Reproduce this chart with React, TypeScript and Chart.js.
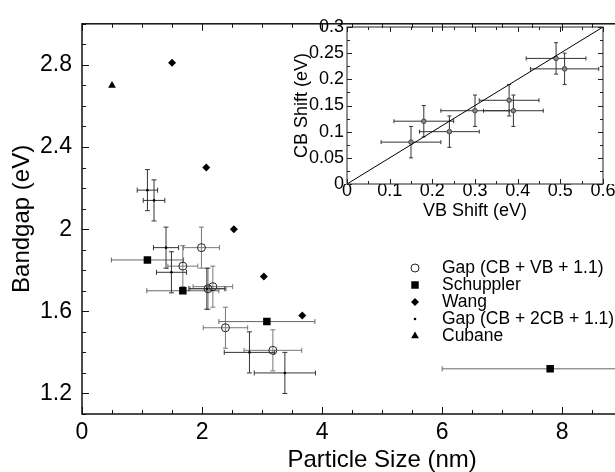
import React, { useEffect, useRef } from 'react';
import { Chart, registerables } from 'chart.js';

Chart.register(...registerables);

const FONT = '"Liberation Sans", Arial, Helvetica, sans-serif';

// ---------- main chart data ----------
const gapVBLabel = 'Gap (CB + VB + 1.1)';
const gapVBX = [1.68, 1.99, 2.1, 2.18, 2.39, 3.18];
const gapVBY = [1.82, 1.91, 1.71, 1.72, 1.52, 1.41];
const gapVBXErr = [0.25, 0.3, 0.3, 0.33, 0.37, 0.48];
const gapVBYErr = [0.1, 0.1, 0.1, 0.1, 0.1, 0.1];

const schupplerLabel = 'Schuppler';
const schupplerX = [1.09, 1.68, 3.08, 7.8];
const schupplerY = [1.85, 1.7, 1.55, 1.32];
const schupplerXErr = [0.6, 0.6, 0.8, 1.8];

const wangLabel = 'Wang';
const wangX = [1.5, 2.07, 2.53, 3.03, 3.67];
const wangY = [2.81, 2.3, 2.0, 1.77, 1.58];

const gap2CBLabel = 'Gap (CB + 2CB + 1.1)';
const gap2CBX = [1.09, 1.2, 1.4, 1.49, 2.08, 2.79, 3.38];
const gap2CBY = [2.19, 2.14, 1.91, 1.79, 1.71, 1.4, 1.3];
const gap2CBXErr = [0.17, 0.18, 0.21, 0.25, 0.3, 0.42, 0.51];
const gap2CBYErr = [0.1, 0.1, 0.1, 0.1, 0.1, 0.1, 0.1];

const cubaneLabel = 'Cubane';
const cubaneX = [0.5];
const cubaneY = [2.7];

const mainXTicks = [0, 2, 4, 6, 8, 10];
const mainYTicks = [1.2, 1.6, 2, 2.4, 2.8];

// ---------- inset data ----------
const vbShift = [0.15, 0.18, 0.24, 0.3, 0.38, 0.39, 0.49, 0.51];
const cbShift = [0.08, 0.12, 0.1, 0.14, 0.16, 0.14, 0.24, 0.22];
const vbShiftErr = [0.07, 0.07, 0.07, 0.08, 0.07, 0.07, 0.07, 0.08];
const cbShiftErr = [0.03, 0.03, 0.03, 0.03, 0.03, 0.03, 0.03, 0.03];
const fitLineX = [0, 0.6];
const fitLineY = [0, 0.3];

const insetXTicks = [0, 0.1, 0.2, 0.3, 0.4, 0.5, 0.6];
const insetYTicks = [0, 0.05, 0.1, 0.15, 0.2, 0.25, 0.3];

function steps(from: number, to: number, step: number) {
  const out: number[] = [];
  const n = Math.round((to - from) / step);
  for (let i = 0; i <= n; i++) out.push(+(from + i * step).toFixed(4));
  return out;
}

const pts = (xs: number[], ys: number[]) => xs.map((x, i) => ({ x, y: ys[i] }));

function drawMarker(ctx: CanvasRenderingContext2D, style: string, x: number, y: number, r: number, fill: string, stroke: string, lw: number) {
  ctx.beginPath();
  if (style === 'circle') {
    ctx.arc(x, y, r, 0, Math.PI * 2);
  } else if (style === 'rect') {
    const s = Math.SQRT1_2 * r;
    ctx.rect(x - s, y - s, 2 * s, 2 * s);
  } else if (style === 'rectRot') {
    ctx.moveTo(x - r, y);
    ctx.lineTo(x, y - r);
    ctx.lineTo(x + r, y);
    ctx.lineTo(x, y + r);
    ctx.closePath();
  } else if (style === 'triangle') {
    ctx.moveTo(x, y - r);
    ctx.lineTo(x + r * 0.866, y + r * 0.5);
    ctx.lineTo(x - r * 0.866, y + r * 0.5);
    ctx.closePath();
  }
  if (fill && fill !== 'transparent') {
    ctx.fillStyle = fill;
    ctx.fill();
  }
  if (stroke && lw) {
    ctx.strokeStyle = stroke;
    ctx.lineWidth = lw;
    ctx.stroke();
  }
}

const errorBars = {
  id: 'errorBars',
  beforeDatasetsDraw(chart: any) {
    const { ctx } = chart;
    const xs = chart.scales.x;
    const ys = chart.scales.y;
    chart.data.datasets.forEach((ds: any) => {
      if (!ds.errX && !ds.errY) return;
      ctx.save();
      ctx.strokeStyle = ds.errColor || '#000';
      ctx.lineWidth = ds.errWidth || 1;
      const cap = ds.errCap ?? 2.5;
      ds.data.forEach((p: any, i: number) => {
        const px = xs.getPixelForValue(p.x);
        const py = ys.getPixelForValue(p.y);
        const ex = ds.errX ? ds.errX[i] : 0;
        const ey = ds.errY ? ds.errY[i] : 0;
        ctx.beginPath();
        if (ex) {
          const x1 = xs.getPixelForValue(p.x - ex);
          const x2 = xs.getPixelForValue(p.x + ex);
          ctx.moveTo(x1, py); ctx.lineTo(x2, py);
          ctx.moveTo(x1, py - cap); ctx.lineTo(x1, py + cap);
          ctx.moveTo(x2, py - cap); ctx.lineTo(x2, py + cap);
        }
        if (ey) {
          const y1 = ys.getPixelForValue(p.y - ey);
          const y2 = ys.getPixelForValue(p.y + ey);
          ctx.moveTo(px, y1); ctx.lineTo(px, y2);
          ctx.moveTo(px - cap, y1); ctx.lineTo(px + cap, y1);
          ctx.moveTo(px - cap, y2); ctx.lineTo(px + cap, y2);
        }
        ctx.stroke();
      });
      ctx.restore();
    });
  },
};

const frameTicks = {
  id: 'frameTicks',
  afterDraw(chart: any, _args: any, opts: any) {
    const { ctx, chartArea: a } = chart;
    const xs = chart.scales.x;
    const ys = chart.scales.y;
    ctx.save();
    ctx.strokeStyle = opts.color || '#111';
    ctx.lineWidth = opts.lineWidth || 1;
    ctx.beginPath();
    const xTick = (v: number, len: number) => {
      const px = Math.round(xs.getPixelForValue(v)) + 0.5;
      ctx.moveTo(px, a.bottom); ctx.lineTo(px, a.bottom - len);
      ctx.moveTo(px, a.top); ctx.lineTo(px, a.top + len);
    };
    const yTick = (v: number, len: number) => {
      const py = Math.round(ys.getPixelForValue(v)) + 0.5;
      ctx.moveTo(a.left, py); ctx.lineTo(a.left + len, py);
      ctx.moveTo(a.right, py); ctx.lineTo(a.right - len, py);
    };
    opts.xMinor.forEach((v: number) => xTick(v, opts.minorLen));
    opts.xMajor.forEach((v: number) => xTick(v, opts.majorLen));
    opts.yMinor.forEach((v: number) => yTick(v, opts.minorLen));
    opts.yMajor.forEach((v: number) => yTick(v, opts.majorLen));
    ctx.stroke();
    ctx.lineWidth = opts.frameWidth || 1.5;
    ctx.strokeRect(a.left, a.top, a.right - a.left, a.bottom - a.top);
    ctx.restore();
  },
};

const legendBox = {
  id: 'legendBox',
  afterDraw(chart: any, _args: any, opts: any) {
    const { ctx } = chart;
    ctx.save();
    ctx.font = `${opts.fontSize}px ${FONT}`;
    ctx.textBaseline = 'middle';
    ctx.textAlign = 'left';
    chart.data.datasets.forEach((ds: any, i: number) => {
      const y = opts.top + i * opts.rowHeight;
      drawMarker(ctx, ds.pointStyle, opts.markerX, y, ds.pointRadius, ds.backgroundColor, ds.borderColor, ds.pointBorderWidth);
      ctx.fillStyle = '#000';
      ctx.fillText(ds.label, opts.textX, y);
    });
    ctx.restore();
  },
};

export default function App() {
  const mainRef = useRef<HTMLCanvasElement>(null);
  const insetRef = useRef<HTMLCanvasElement>(null);

  useEffect(() => {
    const main = new Chart(mainRef.current as HTMLCanvasElement, {
      type: 'scatter',
      data: {
        datasets: [
          {
            label: gapVBLabel,
            data: pts(gapVBX, gapVBY),
            pointStyle: 'circle',
            pointRadius: 4,
            pointBorderWidth: 1,
            borderColor: '#222',
            backgroundColor: 'transparent',
            errX: gapVBXErr,
            errY: gapVBYErr,
            errColor: '#777',
          } as any,
          {
            label: schupplerLabel,
            data: pts(schupplerX, schupplerY),
            pointStyle: 'rect',
            pointRadius: 5.3,
            pointBorderWidth: 0,
            borderColor: '#000',
            backgroundColor: '#000',
            errX: schupplerXErr,
            errColor: '#666',
          } as any,
          {
            label: wangLabel,
            data: pts(wangX, wangY),
            pointStyle: 'rectRot',
            pointRadius: 4,
            pointBorderWidth: 0,
            borderColor: '#000',
            backgroundColor: '#000',
          } as any,
          {
            label: gap2CBLabel,
            data: pts(gap2CBX, gap2CBY),
            pointStyle: 'circle',
            pointRadius: 1.3,
            pointBorderWidth: 0,
            borderColor: '#000',
            backgroundColor: '#000',
            errX: gap2CBXErr,
            errY: gap2CBYErr,
            errColor: '#333',
          } as any,
          {
            label: cubaneLabel,
            data: pts(cubaneX, cubaneY),
            pointStyle: 'triangle',
            pointRadius: 4.5,
            pointBorderWidth: 0,
            borderColor: '#000',
            backgroundColor: '#000',
          } as any,
        ],
      },
      options: {
        animation: false,
        responsive: false,
        devicePixelRatio: 1,
        layout: { padding: { top: 12, right: 15, left: 0, bottom: 0 } },
        plugins: {
          legend: { display: false },
          tooltip: { enabled: false },
          frameTicks: {
            xMajor: mainXTicks,
            xMinor: steps(0, 10, 0.5),
            yMajor: mainYTicks,
            yMinor: steps(1.1, 3.0, 0.1),
            majorLen: 7,
            minorLen: 4,
            color: '#111',
            lineWidth: 1,
            frameWidth: 1.5,
          },
          legendBox: { markerX: 415, textX: 442, top: 268, rowHeight: 17, fontSize: 17.5 },
        } as any,
        scales: {
          x: {
            type: 'linear',
            min: 0,
            max: 10,
            grid: { display: false, drawTicks: false, tickLength: 0 },
            border: { display: false },
            afterBuildTicks: (s: any) => { s.ticks = mainXTicks.map((v) => ({ value: v })); },
            afterFit: (s: any) => { s.height = 58; },
            ticks: {
              autoSkip: false,
              maxRotation: 0,
              padding: 5,
              color: '#000',
              font: { family: FONT, size: 23 },
              callback: (v: any) => String(v),
            },
            title: {
              display: true,
              text: 'Particle Size (nm)',
              color: '#000',
              font: { family: FONT, size: 24, lineHeight: 1 },
              padding: { top: 0, bottom: 0 },
            },
          },
          y: {
            type: 'linear',
            min: 1.1,
            max: 3.0,
            grid: { display: false, drawTicks: false, tickLength: 0 },
            border: { display: false },
            afterBuildTicks: (s: any) => { s.ticks = mainYTicks.map((v) => ({ value: v })); },
            afterFit: (s: any) => { s.width = 82; },
            ticks: {
              autoSkip: false,
              padding: 10,
              color: '#000',
              font: { family: FONT, size: 23 },
              callback: (v: any) => String(v),
            },
            title: {
              display: true,
              text: 'Bandgap (eV)',
              color: '#000',
              font: { family: FONT, size: 24, lineHeight: 1 },
              padding: { top: 10.5, bottom: 0 },
            },
          },
        },
      } as any,
      plugins: [errorBars, frameTicks, legendBox] as any,
    });

    const inset = new Chart(insetRef.current as HTMLCanvasElement, {
      type: 'scatter',
      data: {
        datasets: [
          {
            label: 'fit',
            data: pts(fitLineX, fitLineY),
            showLine: true,
            borderColor: '#000',
            borderWidth: 1,
            pointRadius: 0,
            backgroundColor: '#000',
          } as any,
          {
            label: 'CB vs VB shift',
            data: pts(vbShift, cbShift),
            pointStyle: 'circle',
            pointRadius: 2.3,
            pointBorderWidth: 1,
            borderColor: '#444',
            backgroundColor: '#888',
            errX: vbShiftErr,
            errY: cbShiftErr,
            errColor: '#333',
            errCap: 2,
          } as any,
        ],
      },
      options: {
        animation: false,
        responsive: false,
        devicePixelRatio: 1,
        layout: { padding: { top: 10, right: 12, left: 0, bottom: 0 } },
        plugins: {
          legend: { display: false },
          tooltip: { enabled: false },
          frameTicks: {
            xMajor: insetXTicks,
            xMinor: steps(0, 0.6, 0.05),
            yMajor: insetYTicks,
            yMinor: steps(0, 0.3, 0.025),
            majorLen: 5,
            minorLen: 3,
            color: '#222',
            lineWidth: 1,
            frameWidth: 1,
          },
        } as any,
        scales: {
          x: {
            type: 'linear',
            min: 0,
            max: 0.6,
            grid: { display: false, drawTicks: false, tickLength: 0 },
            border: { display: false },
            afterBuildTicks: (s: any) => { s.ticks = insetXTicks.map((v) => ({ value: v })); },
            afterFit: (s: any) => { s.height = 36; },
            ticks: {
              autoSkip: false,
              maxRotation: 0,
              padding: -2,
              color: '#000',
              font: { family: FONT, size: 18, lineHeight: 1 },
              callback: (v: any) => String(v),
            },
            title: {
              display: true,
              text: 'VB Shift (eV)',
              color: '#000',
              font: { family: FONT, size: 18, lineHeight: 1 },
              padding: { top: 9, bottom: 0 },
            },
          },
          y: {
            type: 'linear',
            min: 0,
            max: 0.3,
            grid: { display: false, drawTicks: false, tickLength: 0 },
            border: { display: false },
            afterBuildTicks: (s: any) => { s.ticks = insetYTicks.map((v) => ({ value: v })); },
            afterFit: (s: any) => { s.width = 57; },
            ticks: {
              autoSkip: false,
              padding: 3,
              color: '#000',
              font: { family: FONT, size: 18, lineHeight: 1 },
              callback: (v: any) => String(v),
            },
            title: {
              display: true,
              text: 'CB Shift (eV)',
              color: '#000',
              font: { family: FONT, size: 18, lineHeight: 1 },
              padding: { top: 3, bottom: 0 },
            },
          },
        },
      } as any,
      plugins: [errorBars, frameTicks] as any,
    });

    return () => {
      main.destroy();
      inset.destroy();
    };
  }, []);

  return (
    <div style={{ position: 'absolute', left: 0, top: 0, width: 615, height: 472, overflow: 'hidden', background: '#fff' }}>
      <canvas
        ref={mainRef}
        width={700}
        height={472}
        style={{ position: 'absolute', left: 0, top: 0, width: 700, height: 472 }}
      />
      <canvas
        ref={insetRef}
        width={325}
        height={205}
        style={{ position: 'absolute', left: 290, top: 15, width: 325, height: 205 }}
      />
    </div>
  );
}
